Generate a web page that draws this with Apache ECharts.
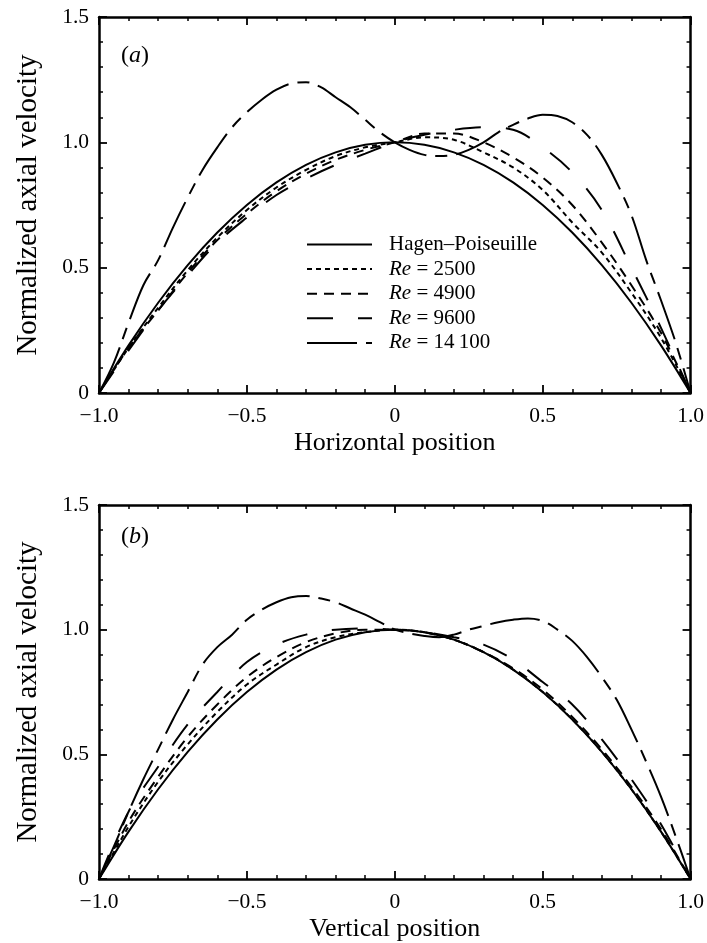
<!DOCTYPE html>
<html>
<head>
<meta charset="utf-8">
<script src="https://cdn.jsdelivr.net/npm/echarts@6/dist/echarts.min.js"></script>
<style>
  html, body { margin: 0; padding: 0; background: #fff; }
  #chart { width: 707px; height: 943px; }
</style>
</head>
<body>
<div id="chart"></div>
<script>
var FONT = "Liberation Serif";

// positions along the pipe
var xCoarse = [-1, -0.9, -0.8, -0.7, -0.6, -0.5, -0.4, -0.3, -0.2, -0.1, 0,
  0.1, 0.2, 0.3, 0.4, 0.5, 0.6, 0.7, 0.8, 0.9, 1];
var xFine = [-1, -0.95, -0.9, -0.85, -0.8, -0.75, -0.7, -0.65, -0.6, -0.55, -0.5,
  -0.45, -0.4, -0.35, -0.3, -0.25, -0.2, -0.15, -0.1, -0.05, 0,
  0.05, 0.1, 0.15, 0.2, 0.25, 0.3, 0.35, 0.4, 0.45, 0.5,
  0.55, 0.6, 0.65, 0.7, 0.75, 0.8, 0.85, 0.9, 0.95, 1];

var seriesNames = ["Hagen–Poiseuille", "Re = 2500", "Re = 4900", "Re = 9600", "Re = 14\u2009100"];
var xTickLabels = ["−1.0", "−0.5", "0", "0.5", "1.0"];
var yTickLabels = ["0", "0.5", "1.0", "1.5"];

// (a) horizontal profiles
var hagenA = [0, 0.19, 0.36, 0.51, 0.64, 0.75, 0.84, 0.91, 0.96, 0.99, 1.0,
  0.99, 0.96, 0.91, 0.84, 0.75, 0.64, 0.51, 0.36, 0.19, 0];
var re2500A = [0, 0.18, 0.34, 0.49, 0.62, 0.73, 0.82, 0.89, 0.945, 0.98, 1.0,
  1.02, 1.01, 0.96, 0.9, 0.81, 0.68, 0.56, 0.4, 0.22, 0];
var re4900A = [0, 0.18, 0.33, 0.48, 0.61, 0.715, 0.805, 0.875, 0.93, 0.97, 1.0,
  1.035, 1.035, 1.0, 0.94, 0.86, 0.75, 0.6, 0.43, 0.24, 0];
var re9600A = [0, 0.17, 0.33, 0.47, 0.6, 0.7, 0.79, 0.855, 0.91, 0.955, 1.0,
  1.03, 1.05, 1.06, 1.05, 0.98, 0.88, 0.73, 0.5, 0.26, 0];
var re14100A = [0, 0.12, 0.28, 0.43, 0.53, 0.66, 0.78, 0.89, 0.98, 1.06, 1.12,
  1.17, 1.21, 1.235, 1.24, 1.22, 1.18, 1.14, 1.09, 1.04, 1.0,
  0.97, 0.95, 0.945, 0.95, 0.97, 1.0, 1.04, 1.07, 1.095, 1.11,
  1.105, 1.08, 1.03, 0.95, 0.84, 0.71, 0.53, 0.37, 0.2, 0];

// (b) vertical profiles
var hagenB = [0, 0.19, 0.36, 0.51, 0.64, 0.75, 0.84, 0.91, 0.96, 0.99, 1.0,
  0.99, 0.96, 0.91, 0.84, 0.75, 0.64, 0.51, 0.36, 0.19, 0];
var re2500B = [0, 0.21, 0.39, 0.54, 0.67, 0.78, 0.86, 0.93, 0.97, 0.99, 1.0,
  0.99, 0.96, 0.91, 0.84, 0.75, 0.64, 0.51, 0.36, 0.19, 0];
var re4900B = [0, 0.23, 0.41, 0.57, 0.7, 0.81, 0.89, 0.95, 0.985, 1.0, 1.0,
  0.99, 0.96, 0.91, 0.845, 0.76, 0.65, 0.52, 0.37, 0.2, 0];
var re9600B = [0, 0.27, 0.45, 0.62, 0.75, 0.87, 0.94, 0.98, 1.0, 1.005, 1.0,
  0.99, 0.97, 0.94, 0.88, 0.79, 0.7, 0.56, 0.4, 0.22, 0];
var re14100B = [0, 0.13, 0.27, 0.4, 0.52, 0.64, 0.75, 0.86, 0.93, 0.98, 1.04,
  1.08, 1.11, 1.13, 1.135, 1.125, 1.11, 1.085, 1.06, 1.03, 1.0,
  0.985, 0.975, 0.97, 0.98, 1.0, 1.015, 1.03, 1.04, 1.045, 1.035,
  1.0, 0.955, 0.89, 0.81, 0.72, 0.6, 0.47, 0.33, 0.17, 0];

var dashes = ["solid", [5, 4], [10, 7], [26, 25], [50, 9, 12, 9]];

function pairs(xs, ys) {
  return xs.map(function (x, i) { return [x, ys[i]]; });
}

var grids = [
  { left: 99, width: 593, top: 17, height: 376 },
  { left: 99, width: 593, top: 505, height: 376 }
];

function xAxisFor(gi, pos, name) {
  return {
    type: "value", gridIndex: gi, position: pos, min: -1, max: 1, interval: 0.5,
    name: name, nameLocation: "middle", nameGap: 37,
    nameTextStyle: { fontFamily: FONT, fontSize: 26, color: "#000" },
    axisLine: { show: true, onZero: false, lineStyle: { color: "#000", width: 2.5 } },
    axisTick: { show: true, inside: true, length: 8, lineStyle: { color: "#000", width: 1.8 } },
    minorTick: { show: true, splitNumber: 5, length: 4, lineStyle: { color: "#000", width: 1.5 } },
    axisLabel: {
      show: pos === "bottom", margin: 12, fontFamily: FONT, fontSize: 21.5, color: "#000",
      formatter: function (v) { return xTickLabels[Math.round((v + 1) / 0.5)]; }
    },
    splitLine: { show: false }
  };
}

function yAxisFor(gi, pos) {
  return {
    type: "value", gridIndex: gi, position: pos, min: 0, max: 1.5, interval: 0.5,
    name: pos === "left" ? "Normalized axial velocity" : "",
    nameLocation: "middle", nameGap: 56, nameRotate: 90,
    nameTextStyle: { fontFamily: FONT, fontSize: 29, color: "#000" },
    axisLine: { show: true, onZero: false, lineStyle: { color: "#000", width: 2.5 } },
    axisTick: { show: true, inside: true, length: 8, lineStyle: { color: "#000", width: 1.8 } },
    minorTick: { show: true, splitNumber: 5, length: 4, lineStyle: { color: "#000", width: 1.5 } },
    axisLabel: {
      show: pos === "left", margin: 10, fontFamily: FONT, fontSize: 21.5, color: "#000",
      formatter: function (v) { return yTickLabels[Math.round(v / 0.5)]; }
    },
    splitLine: { show: false }
  };
}

var panelA = [pairs(xCoarse, hagenA), pairs(xCoarse, re2500A), pairs(xCoarse, re4900A),
  pairs(xCoarse, re9600A), pairs(xFine, re14100A)];
var panelB = [pairs(xCoarse, hagenB), pairs(xCoarse, re2500B), pairs(xCoarse, re4900B),
  pairs(xCoarse, re9600B), pairs(xFine, re14100B)];

var series = [];
[panelA, panelB].forEach(function (panel, gi) {
  panel.forEach(function (d, i) {
    series.push({
      name: seriesNames[i], type: "line", data: d,
      xAxisIndex: gi * 2, yAxisIndex: gi * 2,
      smooth: 0.35, symbol: "none", silent: true,
      itemStyle: { color: "#000" },
      lineStyle: { color: "#000", width: 2, type: dashes[i] },
      z: 10 - i
    });
  });
});

var panelRich = {
  p: { fontFamily: FONT, fontSize: 24, fontWeight: "normal", color: "#000" },
  i: { fontFamily: FONT, fontSize: 24, fontWeight: "normal", fontStyle: "italic", color: "#000" }
};

var chart = echarts.init(document.getElementById("chart"));
chart.setOption({
  backgroundColor: "#fff",
  animation: false,
  title: [
    { text: "{p|(}{i|a}{p|)}", left: 121, top: 44, padding: 0, textStyle: { rich: panelRich } },
    { text: "{p|(}{i|b}{p|)}", left: 121, top: 525, padding: 0, textStyle: { rich: panelRich } }
  ],
  legend: {
    orient: "vertical", left: 306, top: 234, padding: 0,
    itemWidth: 65, itemHeight: 14, itemGap: 3.6,
    data: seriesNames,
    selectedMode: false,
    itemStyle: { opacity: 0 },
    formatter: function (name) {
      if (name.indexOf("Re") === 0) return "{i|Re}{t|" + name.slice(2) + "}";
      return "{t|" + name + "}";
    },
    textStyle: {
      padding: [0, 0, 0, 12],
      rich: {
        i: { fontFamily: FONT, fontSize: 21, fontStyle: "italic", color: "#000", lineHeight: 23.5 },
        t: { fontFamily: FONT, fontSize: 21, color: "#000", lineHeight: 23.5 }
      }
    }
  },
  grid: grids,
  xAxis: [xAxisFor(0, "bottom", "Horizontal position"), xAxisFor(0, "top", ""),
    xAxisFor(1, "bottom", "Vertical position"), xAxisFor(1, "top", "")],
  yAxis: [yAxisFor(0, "left"), yAxisFor(0, "right"), yAxisFor(1, "left"), yAxisFor(1, "right")],
  series: series
});
</script>
</body>
</html>
